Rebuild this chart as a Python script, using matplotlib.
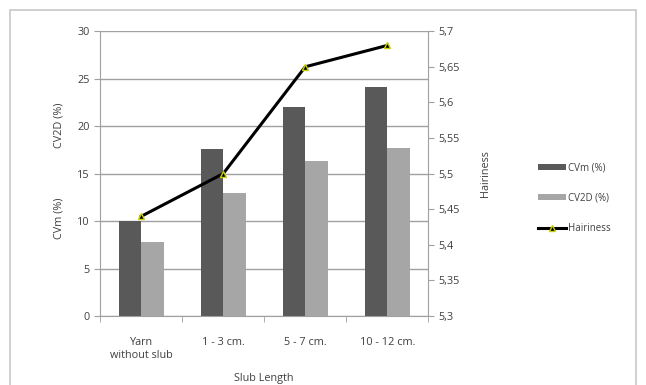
import matplotlib.pyplot as plt
import numpy as np
from matplotlib.patches import Rectangle

# data
categories = ["Yarn\nwithout slub", "1 - 3 cm.", "5 - 7 cm.", "10 - 12 cm."]
cvm = [10.0, 17.6, 22.0, 24.1]
cv2d = [7.8, 13.0, 16.3, 17.7]
hairiness = [5.44, 5.50, 5.65, 5.68]

plt.rcParams['font.family'] = ['Open Sans', 'DejaVu Sans']
txt = "#404040"

fig = plt.figure(figsize=(6.46, 3.85), dpi=100)
# outer chart border
fig.patches.append(Rectangle((10 / 646, -0.01), 626 / 646, 1 - 10 / 385 + 0.01,
                             transform=fig.transFigure, fill=False,
                             edgecolor="#c8c8c8", linewidth=1.2))

ax = fig.add_axes([0.155, 0.179, 0.508, 0.740])
x = np.arange(len(categories))
w = 0.275
b1 = ax.bar(x - w / 2, cvm, w, color="#595959", label="CVm (%)", zorder=2)
b2 = ax.bar(x + w / 2, cv2d, w, color="#a6a6a6", label="CV2D (%)", zorder=2)

ax.set_ylim(0, 30)
ax.set_yticks(range(0, 31, 5))
ax.set_xlim(-0.5, len(categories) - 0.5)
ax.set_xticks(x)
ax.set_xticklabels(categories, fontsize=7.8, color=txt)
ax.set_xticks(np.arange(-0.5, len(categories), 1), minor=True)
ax.tick_params(axis="x", which="major", length=0, pad=15)
ax.tick_params(axis="x", which="minor", length=4, color="#a0a0a0")
ax.tick_params(axis="y", length=4, color="#a0a0a0", labelsize=7.8, labelcolor=txt)
ax.yaxis.grid(True, color="#a0a0a0", linewidth=1, zorder=0)
ax.set_axisbelow(True)
for s in ["top", "right"]:
    ax.spines[s].set_visible(False)
ax.spines["left"].set_color("#a0a0a0")
ax.spines["bottom"].set_color("#a0a0a0")
ax.set_xlabel("Slub Length", fontsize=7.8, color=txt, labelpad=9)
fig.text(0.092, 0.434, "CVm (%)", rotation=90, fontsize=7.8, color=txt, ha="center", va="center")
fig.text(0.092, 0.675, "CV2D (%)", rotation=90, fontsize=7.8, color=txt, ha="center", va="center")

ax2 = ax.twinx()
l1, = ax2.plot(x, hairiness, color="black", linewidth=2.2, marker="^", markersize=5,
               markerfacecolor="black", markeredgecolor="#c8d200", label="Hairiness", zorder=3)
ax2.set_ylim(5.3, 5.7)
ticks = [5.3, 5.35, 5.4, 5.45, 5.5, 5.55, 5.6, 5.65, 5.7]
ax2.set_yticks(ticks)
ax2.set_yticklabels([("%g" % t).replace(".", ",") for t in ticks], fontsize=7.8, color=txt)
ax2.tick_params(axis="y", length=4, color="#a0a0a0")
for s in ["top", "left", "bottom"]:
    ax2.spines[s].set_visible(False)
ax2.spines["right"].set_color("#a0a0a0")
ax2.set_ylabel("Hairiness", fontsize=7.8, color=txt, labelpad=14)

fig.legend(handles=[b1, b2, l1], loc="center left", bbox_to_anchor=(0.82, 0.485),
           frameon=False, fontsize=7, labelcolor=txt, handlelength=2.8,
           handleheight=0.6, labelspacing=2.0, handletextpad=0.2)

fig.savefig("out.png", dpi=100)
